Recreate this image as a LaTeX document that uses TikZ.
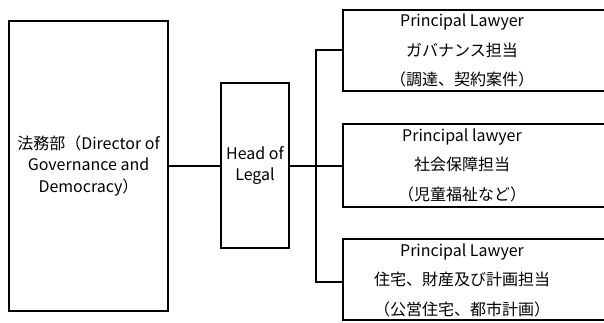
\documentclass[tikz,border=0pt]{standalone}
\usepackage{fontspec}
\setmainfont{Noto Sans CJK JP}
\begin{document}
\begin{tikzpicture}[x=1pt,y=-1pt,
  box/.style={draw=black,line width=1.3pt,fill=white},
  lbl/.style={font=\fontsize{16}{21.5}\selectfont,align=center,text=black,inner sep=0pt},
  rlbl/.style={font=\fontsize{16}{29.5}\selectfont,align=center,text=black,inner sep=0pt},
  conn/.style={draw=black,line width=1.3pt}]
\useasboundingbox (0,0) rectangle (604,323);
\clip (0,0) rectangle (604,323);
\fill[white] (0,0) rectangle (604,323);
% boxes
\draw[box] (9,21) rectangle (168,311);
\coordinate (dirR) at (168,166);
\draw[box] (221,83) rectangle (289,248);
\coordinate (holL) at (221,166);
\coordinate (holR) at (289,166);
\draw[box] (343,10) rectangle (612,91);
\draw[box] (343,124) rectangle (612,207);
\draw[box] (343,239) rectangle (612,320);
\coordinate (p1) at (343,50);
\coordinate (p2) at (343,166);
\coordinate (p3) at (343,282);
\coordinate (t1) at (316,50);
\coordinate (t3) at (316,282);
\coordinate (t2) at (316,166);
% labels
\node[lbl] (dir) at (88.5,166) {法務部（Director of\\Governance and\\Democracy）};
\node[lbl,font=\fontsize{16}{20.5}\selectfont] (hol) at (255,165.5) {Head of\\Legal};
\node[rlbl] (pl1) at (462,50.5) {Principal Lawyer\\ガバナンス担当\\（調達、契約案件）};
\node[rlbl] (pl2) at (462,165) {Principal lawyer\\社会保障担当\\（児童福祉など）};
\node[rlbl] (pl3) at (462,280) {Principal Lawyer\\住宅、財産及び計画担当\\（公営住宅、都市計画）};
% connectors
\draw[conn] (dirR) -- (holL);
\draw[conn] (holR) -- (t2) -- (p2);
\draw[conn] (p1) -- (t1) -- (t3) -- (p3);
\end{tikzpicture}
\end{document}
